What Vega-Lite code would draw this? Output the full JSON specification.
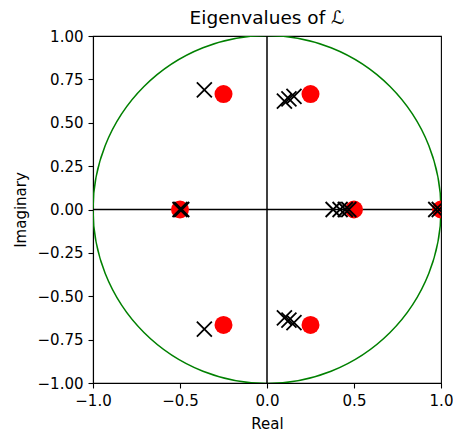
{
  "$schema": "https://vega.github.io/schema/vega-lite/v6.json",
  "width": 348,
  "height": 347,
  "autosize": "none",
  "padding": {"left": 93, "top": 36, "right": 12, "bottom": 53},
  "background": "white",
  "title": {"text": "Eigenvalues of ℒ", "font": "DejaVu Sans", "fontSize": 18.5, "fontWeight": "normal", "color": "black", "anchor": "middle", "offset": 2},
  "config": {
    "view": {"stroke": "black", "strokeWidth": 1.1},
    "axis": {"grid": false, "domainColor": "black", "domainWidth": 1.1, "tickColor": "black", "tickWidth": 1.1, "tickSize": 5, "labelFont": "DejaVu Sans", "labelFontSize": 15, "labelColor": "black", "labelPadding": 5, "titleFont": "DejaVu Sans", "titleFontSize": 15, "titleFontWeight": "normal", "titleColor": "black", "labelFlush": false, "labelOverlap": false}
  },
  "datasets": {
    "origin": [{"x": 0, "y": 0}],
    "red": [
      {"x": -0.25, "y": 0.665},
      {"x": 0.25, "y": 0.665},
      {"x": -0.5, "y": 0},
      {"x": 0.5, "y": 0},
      {"x": 1.0, "y": 0},
      {"x": -0.25, "y": -0.665},
      {"x": 0.25, "y": -0.665}
    ],
    "cross": [
      {"x": -0.36, "y": 0.69},
      {"x": -0.36, "y": -0.69},
      {"x": 0.1, "y": 0.624},
      {"x": 0.126, "y": 0.637},
      {"x": 0.155, "y": 0.652},
      {"x": 0.1, "y": -0.624},
      {"x": 0.126, "y": -0.637},
      {"x": 0.155, "y": -0.652},
      {"x": -0.5, "y": 0},
      {"x": -0.49, "y": 0},
      {"x": 0.38, "y": 0},
      {"x": 0.42, "y": 0},
      {"x": 0.45, "y": 0},
      {"x": 0.47, "y": 0},
      {"x": 0.97, "y": 0},
      {"x": 0.99, "y": 0}
    ]
  },
  "encoding": {
    "x": {"field": "x", "type": "quantitative", "scale": {"domain": [-1, 1], "nice": false, "zero": false}, "axis": {"title": "Real", "values": [-1, -0.5, 0, 0.5, 1], "format": ".1f", "titlePadding": 8}},
    "y": {"field": "y", "type": "quantitative", "scale": {"domain": [-1, 1], "nice": false, "zero": false}, "axis": {"title": "Imaginary", "values": [-1, -0.75, -0.5, -0.25, 0, 0.25, 0.5, 0.75, 1], "format": ".2f", "titlePadding": 9}}
  },
  "layer": [
    {
      "data": {"name": "origin"},
      "mark": {"type": "point", "shape": "circle", "filled": false, "stroke": "#008000", "strokeWidth": 1.5, "size": 121104, "opacity": 1, "clip": true}
    },
    {
      "data": {"name": "origin"},
      "mark": {"type": "rule", "color": "black", "strokeWidth": 1.5},
      "encoding": {"y": null}
    },
    {
      "data": {"name": "origin"},
      "mark": {"type": "rule", "color": "black", "strokeWidth": 1.5},
      "encoding": {"x": null}
    },
    {
      "data": {"name": "red"},
      "mark": {"type": "point", "shape": "circle", "filled": true, "color": "red", "size": 324, "opacity": 1, "clip": true}
    },
    {
      "data": {"name": "cross"},
      "mark": {"type": "point", "shape": "M-1,-1L1,1M-1,1L1,-1", "filled": false, "stroke": "black", "strokeWidth": 1.8, "size": 225, "opacity": 1, "clip": true}
    }
  ]
}
